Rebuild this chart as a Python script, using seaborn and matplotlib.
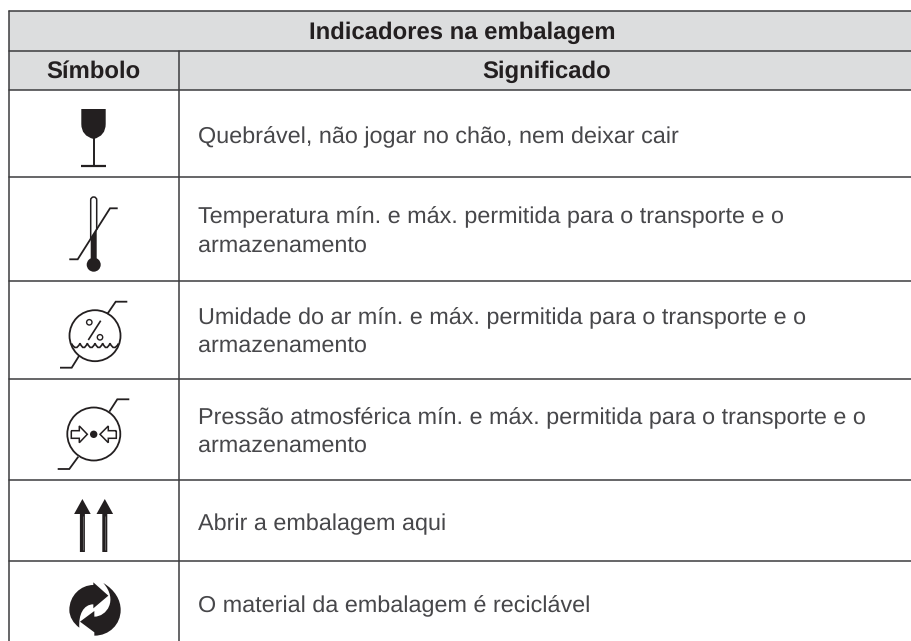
import seaborn as sns
import matplotlib.pyplot as plt
from matplotlib.path import Path
from matplotlib.patches import PathPatch, Circle, Rectangle

# Table content
title = 'Indicadores na embalagem'
col_headers = ['Símbolo', 'Significado']
row_lines = [
    ['Quebrável, não jogar no chão, nem deixar cair'],
    ['Temperatura mín. e máx. permitida para o transporte e o', 'armazenamento'],
    ['Umidade do ar mín. e máx. permitida para o transporte e o', 'armazenamento'],
    ['Pressão atmosférica mín. e máx. permitida para o transporte e o', 'armazenamento'],
    ['Abrir a embalagem aqui'],
    ['O material da embalagem é reciclável'],
]
# Horizontal rules and text baselines, in image pixels
rules_y = [11, 50.5, 89.5, 177.3, 281, 378.5, 480, 561]
baselines = [[143.3], [223.7, 252.3], [324.5, 352.7], [424, 452.3], [530.7], [612.3]]

DARK = '#231f20'
LINE = '#3c3c3e'
HEAD = '#dcddde'
TEXT = '#47474a'
M, L, C, C4 = Path.MOVETO, Path.LINETO, Path.CURVE3, Path.CURVE4

sns.set_theme(style='white', font='Liberation Sans')
plt.rcParams['text.hinting'] = 'none'
plt.rcParams['text.hinting_factor'] = 8

fig = plt.figure(figsize=(9.11, 6.41), dpi=100)
ax = fig.add_axes([0, 0, 1, 1])
ax.set_xlim(0, 911)
ax.set_ylim(641, 0)
ax.axis('off')


def shape(points, codes=None, **kw):
    kw.setdefault('facecolor', DARK)
    kw.setdefault('edgecolor', 'none')
    kw.setdefault('linewidth', 0)
    ax.add_patch(PathPatch(Path(points, codes), **kw))


def stroke(xs, ys, lw=1.3, color=DARK):
    ax.plot(xs, ys, color=color, lw=lw, solid_capstyle='butt', solid_joinstyle='miter')


##############################
# Table frame
##############################
ax.add_patch(Rectangle((8.5, 11), 903, 78.5, facecolor=HEAD, edgecolor='none'))
for y in rules_y:
    ax.plot([8.5, 911], [y, y], color=LINE, lw=1.1)
ax.plot([8.5, 8.5], [11, 641], color=LINE, lw=1.1)
ax.plot([178.5, 178.5], [50.5, 641], color=LINE, lw=1.1)

##############################
# Text
##############################
ax.text(462, 39.3, title, ha='center', va='baseline', fontsize=17.2, fontweight='bold', color=DARK)
ax.text(93, 78, col_headers[0], ha='center', va='baseline', fontsize=17.2, fontweight='bold', color=DARK)
ax.text(547, 78, col_headers[1], ha='center', va='baseline', fontsize=17.2, fontweight='bold', color=DARK)
for lines, ys in zip(row_lines, baselines):
    for line, y in zip(lines, ys):
        ax.text(198, y, line, ha='left', va='baseline', fontsize=16.8, color=TEXT)

##############################
# Icon: glass
##############################
shape([(81.3, 109), (105.7, 109), (105.7, 124), (105.7, 136), (93.7, 139), (81.3, 136), (81.3, 124), (81.3, 109)],
      [M, L, L, C, C, C, C, L])
stroke([93.7, 93.7], [138, 166], lw=1.4)
stroke([81, 106], [166, 166], lw=1.6)

##############################
# Icon: thermometer
##############################
shape([(90.7, 238.8), (96.7, 229.3), (96.7, 262), (90.7, 262)], [M, L, L, L])
ax.add_patch(Circle((93.7, 264.7), 7, facecolor=DARK, edgecolor='none'))
shape([(90.7, 240), (90.7, 200), (90.7, 197), (93.7, 197), (96.7, 197), (96.7, 200), (96.7, 230)],
      [M, L, C, C, C, C, L], facecolor='none', edgecolor=DARK, linewidth=1.1)
stroke([69.3, 77.7, 110, 117.7], [259.3, 259.3, 208.3, 208.3])

##############################
# Icon: humidity
##############################
ax.add_patch(Circle((95, 335.7), 25.5, facecolor='none', edgecolor=DARK, lw=1.3))
stroke([107.3, 115.7, 127.3], [314, 301.7, 301.7])
stroke([79, 71.7, 60], [356, 367.7, 367.7])
stroke([100.7, 88.3], [320.7, 340], lw=1.2)
ax.add_patch(Circle((89.3, 322.3), 2.7, facecolor='none', edgecolor=DARK, lw=1.0))
ax.add_patch(Circle((100, 337.3), 2.7, facecolor='none', edgecolor=DARK, lw=1.0))
shape([(71.5, 343.5), (76, 352), (80, 343.3), (83.7, 352), (87.3, 343.3), (91.2, 352), (95, 343.3),
       (98.8, 352), (102.7, 343.3), (106.3, 352), (110, 343.3), (114, 352), (118.5, 343.5)],
      [M] + [C] * 12, facecolor='none', edgecolor=DARK, linewidth=1.2)

##############################
# Icon: pressure
##############################
ax.add_patch(Circle((93.8, 434), 26.5, facecolor='none', edgecolor=DARK, lw=1.3))
ax.add_patch(Circle((93.7, 434.3), 3.7, facecolor=DARK, edgecolor='none'))
stroke([109.3, 117.3, 129.3], [411.7, 399.3, 399.3])
stroke([78.3, 69.3, 57.7], [456.7, 469, 469])
shape([(71.3, 430.7), (79.3, 430.7), (79.3, 426), (87.3, 434.3), (79.3, 442.7), (79.3, 438.3), (71.3, 438.3), (71.3, 430.7)],
      [M, L, L, L, L, L, L, L], facecolor='none', edgecolor=DARK, linewidth=1.1)
shape([(116.3, 430.7), (108.3, 430.7), (108.3, 426), (100, 434.3), (108.3, 442.7), (108.3, 438.3), (116.3, 438.3), (116.3, 430.7)],
      [M, L, L, L, L, L, L, L], facecolor='none', edgecolor=DARK, linewidth=1.1)

##############################
# Icon: this way up arrows
##############################
for cx in [82.4, 104.8]:
    shape([(cx - 2.5, 552), (cx - 2.5, 514), (cx - 8.3, 514), (cx, 499), (cx + 8.3, 514), (cx + 2.5, 514), (cx + 2.5, 552)],
          [M, L, L, L, L, L, L])
    stroke([cx + 0.5, cx + 0.5], [516, 550], lw=0.4, color='#8a8a8a')


##############################
# Icon: recycling, read in a 70x66 crop at 3x
##############################
def crop(x, y):
    return (60 + x / 3, 575 + y / 3)


shape([crop(*p) for p in [(58, 158), (40, 145), (28, 125), (28, 105), (28, 62), (62, 30), (100, 30), (100, 22), (145, 62),
                          (100, 100), (100, 88), (70, 88), (55, 120), (58, 158)]],
      [M, C4, C4, C4, C4, C4, C4, L, L, L, L, C4, C4, C4])
shape([crop(*p) for p in [(60, 140), (103, 108), (103, 125), (140, 125), (175, 75), (130, 24), (165, 45), (182, 75),
                          (182, 105), (182, 148), (148, 182), (103, 182), (103, 172), (60, 140)]],
      [M, L, L, C4, C4, C4, C4, C4, C4, C4, C4, C4, L, L])

fig.savefig('out.png', dpi=100)
